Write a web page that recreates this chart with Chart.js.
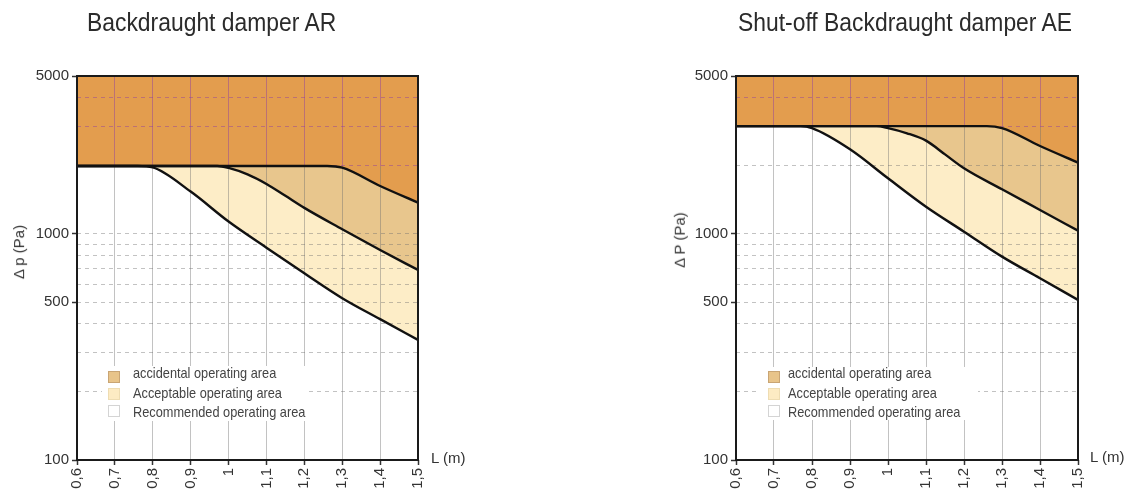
<!DOCTYPE html>
<html>
<head>
<meta charset="utf-8">
<script src="https://cdn.jsdelivr.net/npm/chart.js@4.4.1/dist/chart.umd.min.js"></script>
<style>
  html, body { margin:0; padding:0; background:#fff; }
  body { width:1129px; height:494px; position:relative; overflow:hidden; font-family:"Liberation Sans", Arial, sans-serif; color:#333; }
  canvas { position:absolute; top:0; }
  .title { position:absolute; top:7px; font-size:26px; line-height:30px; white-space:nowrap; color:#2b2b2b; transform:scaleX(0.88); transform-origin:left center; }
  .ytitle { position:absolute; font-size:15px; line-height:16px; white-space:nowrap; color:#333; transform-origin:center center; }
  .xtitle { position:absolute; font-size:15px; line-height:16px; white-space:nowrap; color:#333; }
  .legend { position:absolute; background:#fff; }
  .sq { position:absolute; width:10px; height:10px; }
  .lt { position:absolute; font-size:14.5px; line-height:18px; white-space:nowrap; color:#444; transform:scaleX(0.88); transform-origin:left center; }
</style>
</head>
<body>
<canvas id="cAR" width="565" height="494" style="left:0px"></canvas>
<canvas id="cAE" width="470" height="494" style="left:659px"></canvas>

<div class="title" style="left:87px">Backdraught damper AR</div>
<div class="title" style="left:738px">Shut-off Backdraught damper AE</div>

<div class="ytitle" id="yt1">Δ p (Pa)</div>
<div class="ytitle" id="yt2">Δ P (Pa)</div>
<div class="xtitle" style="left:431px; top:450px">L (m)</div>
<div class="xtitle" style="left:1090px; top:449px">L (m)</div>

<div class="legend" style="left:102px; top:366px; width:206px; height:55px">
  <div class="sq" style="left:6px; top:5px; background:#e8c48a; border:1px solid #c9a574"></div>
  <div class="sq" style="left:6px; top:22px; background:#fdebc3; border:1px solid #eedcb2"></div>
  <div class="sq" style="left:6px; top:39px; background:#fff; border:1px solid #d4d4d4"></div>
  <div class="lt" style="left:31px; top:-2px">accidental operating area</div>
  <div class="lt" style="left:31px; top:17.5px">Acceptable operating area</div>
  <div class="lt" style="left:31px; top:37px">Recommended operating area</div>
</div>
<div class="legend" style="left:760px; top:367px; width:218px; height:53px">
  <div class="sq" style="left:8px; top:4px; background:#e8c48a; border:1px solid #c9a574"></div>
  <div class="sq" style="left:8px; top:21px; background:#fdebc3; border:1px solid #eedcb2"></div>
  <div class="sq" style="left:8px; top:38px; background:#fff; border:1px solid #d4d4d4"></div>
  <div class="lt" style="left:28px; top:-3px">accidental operating area</div>
  <div class="lt" style="left:28px; top:16.5px">Acceptable operating area</div>
  <div class="lt" style="left:28px; top:36px">Recommended operating area</div>
</div>

<script>
// ---- axis ticks ----
const lengthTicks = [0.6, 0.7, 0.8, 0.9, 1.0, 1.1, 1.2, 1.3, 1.4, 1.5];
const pressureTicks = [100, 200, 300, 400, 500, 600, 700, 800, 900, 1000, 2000, 3000, 4000, 5000];
const pressureLabels = [100, 500, 1000, 5000];

// ---- Backdraught damper AR ----
const arCap = 2000;
const arUpperX = [0.6, 1.0, 1.2, 1.26, 1.3, 1.4, 1.5];
const arUpperY = [2000, 2000, 2000, 2000, 1965, 1630, 1376];
const arMidX = [0.6, 0.8, 0.97, 1.0, 1.05, 1.1, 1.15, 1.2, 1.3, 1.4, 1.5];
const arMidY = [2000, 2000, 2000, 1960, 1835, 1665, 1475, 1305, 1050, 850, 693];
const arLowerX = [0.6, 0.7, 0.76, 0.8, 0.9, 1.0, 1.1, 1.2, 1.3, 1.4, 1.5];
const arLowerY = [2000, 2000, 2000, 1970, 1540, 1135, 870, 670, 520, 420, 340];

// ---- Shut-off Backdraught damper AE ----
const aeCap = 3000;
const aeUpperX = [0.6, 1.0, 1.2, 1.26, 1.3, 1.4, 1.5];
const aeUpperY = [3000, 3000, 3000, 3000, 2940, 2450, 2069];
const aeMidX = [0.6, 0.8, 0.97, 1.0, 1.05, 1.1, 1.15, 1.2, 1.3, 1.4, 1.5];
const aeMidY = [3000, 3000, 3000, 2940, 2790, 2588, 2250, 1953, 1577, 1277, 1034];
const aeLowerX = [0.6, 0.7, 0.77, 0.8, 0.9, 1.0, 1.1, 1.2, 1.3, 1.4, 1.5];
const aeLowerY = [3000, 3000, 3000, 2940, 2370, 1764, 1320, 1024, 794, 637, 511];

// ---- colours ----
const cOrange = '#e39d4e';
const cTan = '#e8c68d';
const cCream = '#fdedc7';
const gridGray = 'rgba(110,110,110,0.42)';
const gridPurple = 'rgba(140,60,165,0.45)';

Chart.defaults.font.family = "'Liberation Sans', Arial, sans-serif";
Chart.defaults.font.size = 15;
Chart.defaults.color = '#333';

const pts = (xs, ys) => xs.map((x, i) => ({ x: x, y: ys[i] }));
const fmtLen = v => (Math.round(v * 10) / 10).toString().replace('.', ',');

const framePlugin = {
  id: 'frame',
  afterDatasetsDraw(chart) {
    const { ctx, chartArea: a } = chart;
    ctx.save();
    ctx.strokeStyle = '#1a1a1a';
    ctx.lineWidth = 2;
    ctx.strokeRect(a.left, a.top, a.right - a.left, a.bottom - a.top);
    ctx.restore();
  }
};

function makeChart(id, cap, upX, upY, miX, miY, loX, loY, padRight) {
  const lineStyle = { borderColor: '#111', borderWidth: 2.4, pointRadius: 0, cubicInterpolationMode: 'monotone', fill: 'end' };
  new Chart(document.getElementById(id), {
    type: 'line',
    data: {
      // every curve fills up to the top; the filler paints the last dataset first,
      // so the upper curve's orange ends on top, then tan, then cream.
      datasets: [
        Object.assign({ data: pts(upX, upY), backgroundColor: cOrange }, lineStyle),
        Object.assign({ data: pts(miX, miY), backgroundColor: cTan }, lineStyle),
        Object.assign({ data: pts(loX, loY), backgroundColor: cCream }, lineStyle)
      ]
    },
    options: {
      responsive: false,
      animation: false,
      events: [],
      layout: { padding: { top: 76, right: padRight, left: 0, bottom: 0 } },
      plugins: { legend: { display: false }, tooltip: { enabled: false }, title: { display: false }, filler: { drawTime: 'beforeDraw' } },
      scales: {
        x: {
          type: 'linear', min: 0.6, max: 1.5,
          afterBuildTicks: s => { s.ticks = lengthTicks.map(v => ({ value: v })); },
          afterFit: s => { s.height = 34; },
          ticks: { autoSkip: false, minRotation: 90, maxRotation: 90, padding: 3, callback: v => fmtLen(v), color: '#333' },
          border: { display: false },
          grid: {
            tickLength: 5, tickColor: '#333', tickWidth: 1.5, lineWidth: 1,
            color: (ctx) => {
              const v = ctx.tick ? ctx.tick.value : null;
              if (v === null || Math.abs(v - 0.6) < 1e-6 || Math.abs(v - 1.5) < 1e-6) return 'rgba(0,0,0,0)';
              const ch = ctx.chart, a = ch.chartArea;
              if (!a || !ch.scales.y) return gridGray;
              const yc = ch.scales.y.getPixelForValue(cap);
              const f = Math.min(1, Math.max(0, (yc - a.top) / (a.bottom - a.top)));
              const g = ch.ctx.createLinearGradient(0, a.top, 0, a.bottom);
              g.addColorStop(0, gridPurple); g.addColorStop(f, gridPurple);
              g.addColorStop(f, gridGray); g.addColorStop(1, gridGray);
              return g;
            }
          }
        },
        y: {
          type: 'logarithmic', min: 100, max: 5000,
          afterBuildTicks: s => { s.ticks = pressureTicks.map(v => ({ value: v })); },
          afterFit: s => { s.width = 77; },
          ticks: { autoSkip: false, padding: 3, color: '#333', callback: v => pressureLabels.includes(v) ? String(v) : '' },
          border: { display: false, dash: [4, 4] },
          grid: {
            tickLength: 5, tickWidth: 1.5, lineWidth: 1,
            tickColor: ctx => (ctx.tick && pressureLabels.includes(ctx.tick.value)) ? '#333' : 'rgba(0,0,0,0)',
            color: ctx => {
              const v = ctx.tick ? ctx.tick.value : null;
              if (v === 100 || v === 5000 || v === null) return 'rgba(0,0,0,0)';
              return v >= cap ? gridPurple : gridGray;
            }
          }
        }
      }
    },
    plugins: [framePlugin]
  });
}

makeChart('cAR', arCap, arUpperX, arUpperY, arMidX, arMidY, arLowerX, arLowerY, 147);
makeChart('cAE', aeCap, aeUpperX, aeUpperY, aeMidX, aeMidY, aeLowerX, aeLowerY, 51);

// rotated y-axis titles
function placeRot(id, cx, cy) {
  const el = document.getElementById(id);
  const w = el.offsetWidth, h = el.offsetHeight;
  el.style.left = (cx - w / 2) + 'px';
  el.style.top = (cy - h / 2) + 'px';
  el.style.transform = 'rotate(-90deg)';
}
placeRot('yt1', 19, 252);
placeRot('yt2', 680, 240);
</script>
</body>
</html>
